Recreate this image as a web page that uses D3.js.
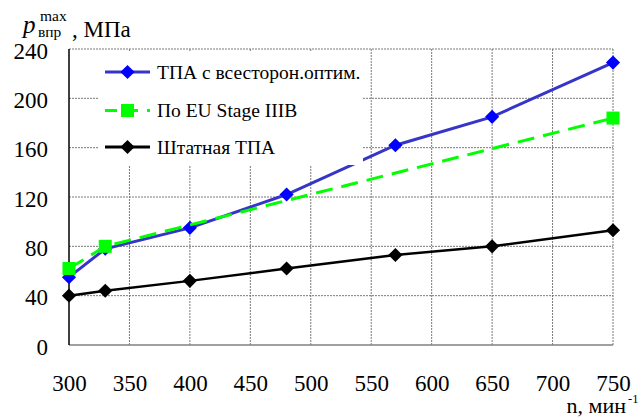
<!DOCTYPE html>
<html>
<head>
<meta charset="utf-8">
<script src="https://cdn.jsdelivr.net/npm/d3@7"></script>
<style>
  body { margin: 0; background: #fff; }
  svg text { font-family: "Liberation Serif", "Times New Roman", Times, serif; fill: #000; }
</style>
</head>
<body>
<div id="chart"></div>
<script>
// data
const rpm_opt = [300, 330, 400, 480, 570, 650, 750];
const p_opt = [55, 78, 95, 122, 162, 185, 229];
const rpm_eu = [300, 330, 750];
const p_eu = [62, 80, 184];
const rpm_base = [300, 330, 400, 480, 570, 650, 750];
const p_base = [40, 44, 52, 62, 73, 80, 93];
const x_ticks = [300, 350, 400, 450, 500, 550, 600, 650, 700, 750];
const y_ticks = [0, 40, 80, 120, 160, 200, 240];
const legend_names = ["ТПА с всесторон.оптим.", "По EU Stage IIIB", "Штатная ТПА"];

const serif = "Liberation Serif, Times New Roman, serif";
const width = 639, height = 417;
const margin = {left: 69, top: 49, right: 26, bottom: 72};
const plot_w = width - margin.left - margin.right;
const plot_h = height - margin.top - margin.bottom;

var svg = d3.select("#chart").append("svg")
	.attr("width", width)
	.attr("height", height)
	.attr("font-family", serif);

var g = svg.append("g")
	.attr("transform", "translate(" + margin.left + "," + margin.top + ")");

var x = d3.scaleLinear().domain([300, 750]).range([0, plot_w]);
var y = d3.scaleLinear().domain([0, 240]).range([plot_h, 0]);

// grid
g.append("g")
	.selectAll("line")
	.data(x_ticks.slice(1))
	.enter().append("line")
		.attr("x1", d => x(d)).attr("x2", d => x(d))
		.attr("y1", 0).attr("y2", plot_h)
		.attr("stroke", "#7a7a7a")
		.attr("stroke-width", 1)
		.attr("stroke-dasharray", "2,1");
g.append("g")
	.selectAll("line")
	.data(y_ticks.slice(1))
	.enter().append("line")
		.attr("x1", 0).attr("x2", plot_w)
		.attr("y1", d => y(d)).attr("y2", d => y(d))
		.attr("stroke", "#7a7a7a")
		.attr("stroke-width", 1)
		.attr("stroke-dasharray", "2,1");

// axes lines
g.append("line")
	.attr("x1", 0).attr("x2", plot_w)
	.attr("y1", plot_h).attr("y2", plot_h)
	.attr("stroke", "#808080").attr("stroke-width", 1.5);
g.append("line")
	.attr("x1", 0).attr("x2", 0)
	.attr("y1", 0).attr("y2", plot_h)
	.attr("stroke", "#000").attr("stroke-width", 1.5);

// tick labels
g.append("g")
	.call(d3.axisLeft(y).tickValues(y_ticks).tickSize(0).tickPadding(21))
	.attr("font-family", serif)
	.attr("font-size", 23)
	.call(a => a.select(".domain").remove())
	.selectAll("text")
		.attr("dy", "0.4em");

g.append("g")
	.attr("transform", "translate(0," + plot_h + ")")
	.call(d3.axisBottom(x).tickValues(x_ticks).tickSize(0).tickPadding(30))
	.attr("font-family", serif)
	.attr("font-size", 23)
	.call(a => a.select(".domain").remove());

// series (blue under green, as in the figure)
var diamond = d3.symbol().type(d3.symbolSquare).size(100);
var square = d3.symbol().type(d3.symbolSquare).size(170);

var series = [
	{xs: rpm_opt, ys: p_opt, line: "#3535c8", mark: "#0000ff", sym: diamond, rot: 45, dash: null, w: 3},
	{xs: rpm_base, ys: p_base, line: "#000000", mark: "#000000", sym: diamond, rot: 45, dash: null, w: 2.5},
	{xs: rpm_eu, ys: p_eu, line: "#00ff00", mark: "#00ff00", sym: square, rot: 0, dash: "17,9", w: 3}
];

var line = d3.line().x(d => x(d[0])).y(d => y(d[1]));

series.forEach(s => {
	var pts = s.xs.map((v, i) => [v, s.ys[i]]);
	g.append("path")
		.attr("d", line(pts))
		.attr("fill", "none")
		.attr("stroke", s.line)
		.attr("stroke-width", s.w)
		.attr("stroke-dasharray", s.dash);
	g.selectAll(null)
		.data(pts)
		.enter().append("path")
			.attr("d", s.sym)
			.attr("transform", d => "translate(" + x(d[0]) + "," + y(d[1]) + ") rotate(" + s.rot + ")")
			.attr("fill", s.mark);
});

// legend, white box over the plot
var leg = g.append("g");
leg.append("rect")
	.attr("x", 30).attr("y", 2)
	.attr("width", 264).attr("height", 114)
	.attr("fill", "#fff");

var leg_items = [
	{name: legend_names[0], line: "#3535c8", mark: "#0000ff", sym: diamond, rot: 45, dash: null},
	{name: legend_names[1], line: "#00ff00", mark: "#00ff00", sym: square, rot: 0, dash: "12,9"},
	{name: legend_names[2], line: "#000000", mark: "#000000", sym: diamond, rot: 45, dash: null}
];
var leg_y = [23, 61.5, 98];

leg_items.forEach((it, i) => {
	leg.append("line")
		.attr("x1", 36).attr("x2", 81)
		.attr("y1", leg_y[i]).attr("y2", leg_y[i])
		.attr("stroke", it.line)
		.attr("stroke-width", 3)
		.attr("stroke-dasharray", it.dash);
	leg.append("path")
		.attr("d", it.sym)
		.attr("transform", "translate(58.5," + leg_y[i] + ") rotate(" + it.rot + ")")
		.attr("fill", it.mark);
	leg.append("text")
		.attr("x", 88)
		.attr("y", leg_y[i] + 6.5)
		.attr("font-size", 19.5)
		.text(it.name);
});

// y title
svg.append("text")
	.attr("x", 23).attr("y", 33)
	.attr("font-size", 25)
	.attr("font-style", "italic")
	.text("p");
svg.append("text")
	.attr("x", 40).attr("y", 21)
	.attr("font-size", 15.5)
	.text("max");
svg.append("text")
	.attr("x", 38).attr("y", 37)
	.attr("font-size", 15.5)
	.text("впр");
svg.append("text")
	.attr("x", 72).attr("y", 37)
	.attr("font-size", 23)
	.text(", МПа");

// x title
svg.append("text")
	.attr("x", 626).attr("y", 413)
	.attr("text-anchor", "end")
	.attr("font-size", 22)
	.text("n, мин");
svg.append("text")
	.attr("x", 628).attr("y", 403)
	.attr("font-size", 12.5)
	.text("-1");
</script>
</body>
</html>
